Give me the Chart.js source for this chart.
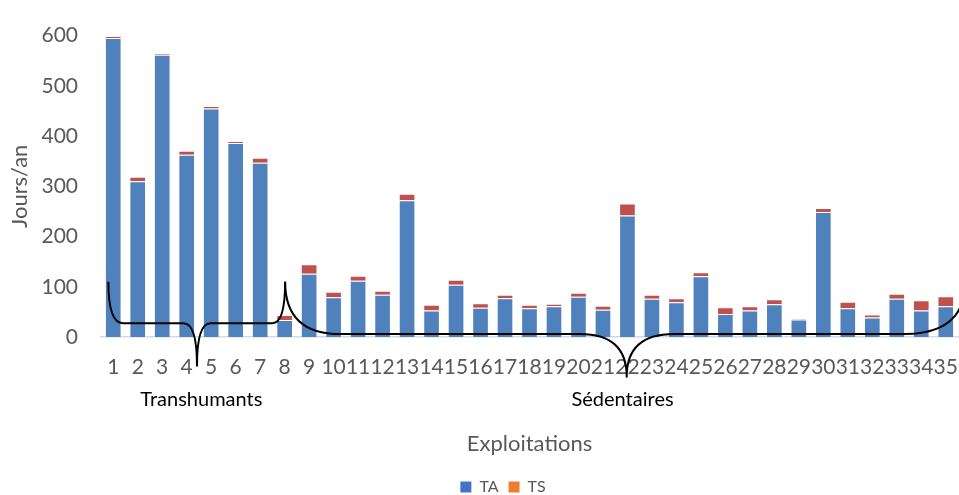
<!DOCTYPE html>
<html lang="fr">
<head>
<meta charset="utf-8">
<title>Jours/an par exploitation</title>
<script src="https://cdn.jsdelivr.net/npm/chart.js@4.4.1/dist/chart.umd.min.js"></script>
<style>
  html, body { margin: 0; padding: 0; background: #ffffff; }
  #wrap { width: 959px; height: 495px; position: relative; }
</style>
</head>
<body>
<div id="wrap"><canvas id="chart"></canvas></div>
<script>
// Data
const exploitations = ['1','2','3','4','5','6','7','8','9','10','11','12','13','14','15','16','17','18',
  '19','20','21','22','23','24','25','26','27','28','29','30','31','32','33','34','35'];
const seriesNames = ['TA', 'TS'];
const taValues = [595, 310, 562, 363, 455, 386, 347, 34, 126, 79, 112, 84, 272, 53, 104, 58, 77, 57,
  61, 80, 54, 242, 76, 69, 121, 46, 53, 65, 35, 249, 57, 39, 76, 53, 61];
const tsValues = [4, 9, 3, 8, 5, 4, 10, 10, 19, 11, 10, 8, 13, 11, 10, 9, 7, 7,
  5, 8, 8, 24, 8, 8, 8, 13, 8, 10, 2, 8, 13, 6, 10, 20, 20];
const yTicks = [0, 100, 200, 300, 400, 500, 600];
const groupNames = ['Transhumants', 'Sédentaires'];

// Colours
const BAR_COLORS = ['#4F81BD', '#C0504D'];
const LEGEND_COLORS = ['#4472C4', '#ED7D31'];
const TEXT_GREY = '#595959';

Chart.defaults.font.family = 'Lato, "Noto Sans", sans-serif';

// Legend sits a bit right of centre and lower than Chart.js puts it
const LEGEND_DX = 24;
const LEGEND_DY = 10;

// Brace annotations, in (category index, value) units
function drawBraces(chart) {
  const x = chart.scales.x;
  const y = chart.scales.y;
  const ctx = chart.ctx;
  const p = (i, v) => [x.getPixelForValue(i), y.getPixelForValue(v)];

  ctx.save();
  ctx.strokeStyle = '#000000';
  ctx.lineWidth = 2;
  ctx.lineJoin = 'round';

  // Transhumants brace (1 to 8)
  let h = 27.5;
  ctx.beginPath();
  ctx.moveTo(...p(-0.2, 110));
  ctx.quadraticCurveTo(...p(-0.2, h), ...p(0.4, h));
  ctx.lineTo(...p(2.87, h));
  ctx.quadraticCurveTo(...p(3.42, h), ...p(3.42, -57));
  ctx.quadraticCurveTo(...p(3.42, h), ...p(3.97, h));
  ctx.lineTo(...p(6.5, h));
  ctx.quadraticCurveTo(...p(7.02, h), ...p(7.02, 110));
  ctx.stroke();

  // Sédentaires brace (8 to 35)
  h = 5.8;
  ctx.beginPath();
  ctx.moveTo(...p(7.02, 110));
  ctx.quadraticCurveTo(...p(7.02, h), ...p(9.27, h));
  ctx.lineTo(...p(19.06, h));
  ctx.quadraticCurveTo(...p(20.97, h), ...p(20.97, -79));
  ctx.quadraticCurveTo(...p(20.97, h), ...p(22.9, h));
  ctx.lineTo(...p(32.3, h));
  ctx.quadraticCurveTo(...p(34.8, h), ...p(34.8, 110));
  ctx.stroke();

  // Group names
  ctx.fillStyle = '#000000';
  ctx.font = '20px Lato, "Noto Sans", sans-serif';
  ctx.textAlign = 'center';
  ctx.textBaseline = 'middle';
  ctx.fillText(groupNames[0], ...p(3.6, -125));
  ctx.fillText(groupNames[1], ...p(20.8, -125));
  ctx.restore();
}

const bracePlugin = {
  id: 'braces',
  afterLayout(chart) {
    const lg = chart.legend;
    if (lg) {
      lg.left += LEGEND_DX;
      lg.right += LEGEND_DX;
      lg.top += LEGEND_DY;
      lg.bottom += LEGEND_DY;
    }
  },
  afterDraw(chart) {
    drawBraces(chart);
  }
};

const ctx = document.getElementById('chart').getContext('2d');
const chart = new Chart(ctx, {
  type: 'bar',
  data: {
    labels: exploitations,
    datasets: [
      {
        label: seriesNames[0],
        data: taValues,
        backgroundColor: BAR_COLORS[0],
        borderColor: 'rgba(255,255,255,0.3)',
        borderWidth: 1,
        barPercentage: 0.68,
        categoryPercentage: 1
      },
      {
        label: seriesNames[1],
        data: tsValues,
        backgroundColor: BAR_COLORS[1],
        borderColor: 'rgba(255,255,255,0.3)',
        borderWidth: 1,
        barPercentage: 0.68,
        categoryPercentage: 1
      }
    ]
  },
  options: {
    responsive: true,
    maintainAspectRatio: false,
    animation: false,
    layout: {
      padding: { top: 25, right: 1, bottom: 0, left: 0 }
    },
    plugins: {
      tooltip: { enabled: false },
      legend: {
        position: 'bottom',
        labels: {
          boxWidth: 11,
          boxHeight: 11,
          padding: 10,
          color: TEXT_GREY,
          font: { size: 16 },
          generateLabels: function(chart) {
            return seriesNames.map((name, i) => ({
              text: name,
              fillStyle: LEGEND_COLORS[i],
              strokeStyle: LEGEND_COLORS[i],
              lineWidth: 0,
              fontColor: TEXT_GREY,
              hidden: false,
              datasetIndex: i
            }));
          }
        }
      }
    },
    scales: {
      x: {
        stacked: true,
        offset: true,
        // invisible tick marks push the labels down without widening the side padding
        grid: {
          display: true,
          drawOnChartArea: false,
          drawTicks: true,
          tickLength: 18,
          color: 'rgba(0,0,0,0)'
        },
        border: { display: true, color: '#d9d9d9', width: 1.5 },
        ticks: {
          color: TEXT_GREY,
          font: { size: 21 },
          padding: 0,
          autoSkip: false,
          maxRotation: 0,
          minRotation: 0
        },
        title: {
          display: true,
          text: 'Exploitations',
          color: TEXT_GREY,
          font: { size: 22 },
          padding: { top: 0, bottom: 2 }
        },
        afterFit: function(scale) { scale.height = 122; }
      },
      y: {
        stacked: true,
        min: 0,
        max: 600,
        grid: { display: false, drawTicks: false },
        border: { display: false },
        ticks: {
          stepSize: 100,
          color: TEXT_GREY,
          font: { size: 21 },
          padding: 23,
          callback: function(value) { return yTicks.includes(value) ? value : ''; }
        },
        title: {
          display: true,
          text: 'Jours/an',
          color: TEXT_GREY,
          font: { size: 22 },
          padding: { top: 7, bottom: 0 }
        },
        afterFit: function(scale) { scale.width = 101; }
      }
    }
  },
  plugins: [bracePlugin]
});
</script>
</body>
</html>
